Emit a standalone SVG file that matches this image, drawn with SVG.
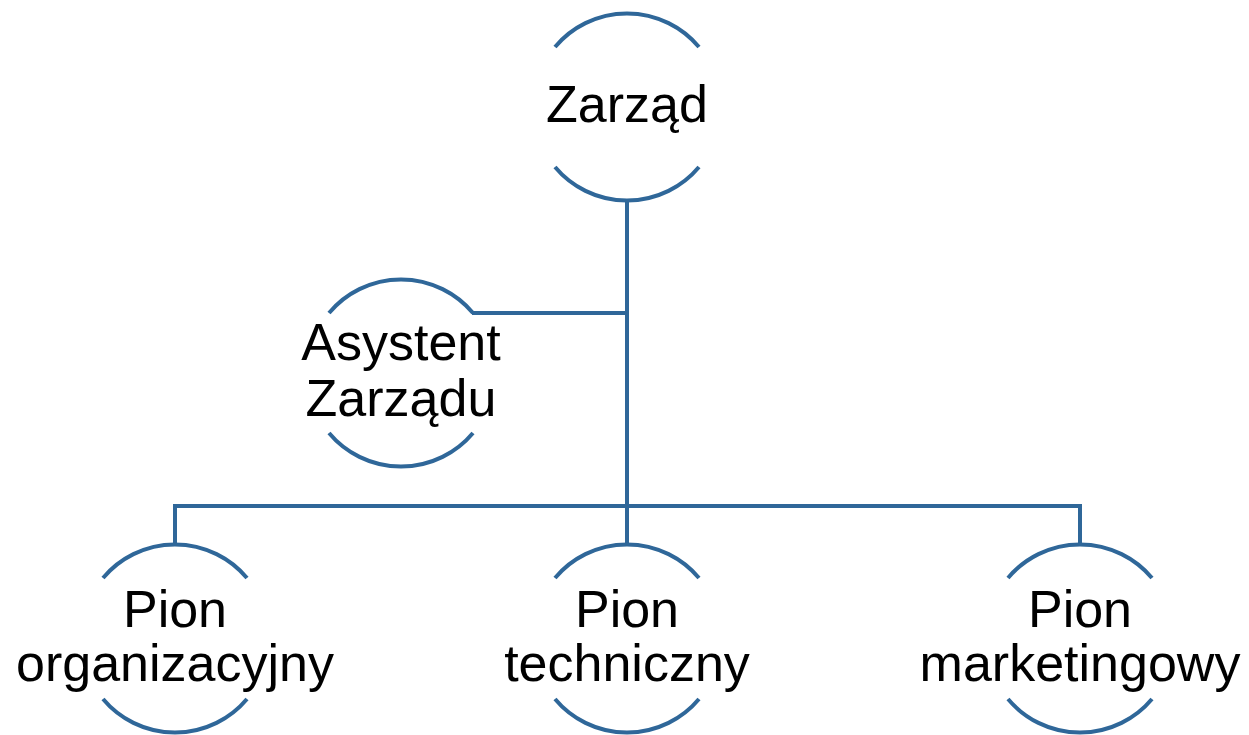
<svg xmlns="http://www.w3.org/2000/svg" width="1249" height="735" viewBox="0 0 1249 735">
<style>
.arc{fill:none;stroke:#2F6799;stroke-width:4}
.con{fill:none;stroke:#2F6799;stroke-width:4;stroke-linejoin:miter}
.t{font-family:"Liberation Sans",Arial,sans-serif;font-size:52px;fill:#000;text-anchor:middle}
</style>
<rect width="1249" height="735" fill="#fff"/>
<g id="connectors">
<path class="con" d="M627 200 V506"/>
<path class="con" d="M472 313 H627"/>
<path class="con" d="M175 545 V506 H1080 V545"/>
<path class="con" d="M627 506 V545"/>
</g>
<g id="zarzad">
<path class="arc" d="M555 47 A94 94 0 0 1 699 47"/>
<path class="arc" d="M555 167 A94 94 0 0 0 699 167"/>
<text class="t" x="627" y="122">Zarząd</text>
</g>
<g id="asystent">
<path class="arc" d="M329 313 A94 94 0 0 1 473 313"/>
<path class="arc" d="M329 433 A94 94 0 0 0 473 433"/>
<text class="t" x="401" y="360">Asystent</text>
<text class="t" x="401" y="416">Zarządu</text>
</g>
<g id="pion-org">
<path class="arc" d="M103 578 A94 94 0 0 1 247 578"/>
<path class="arc" d="M103 699 A94 94 0 0 0 247 699"/>
<text class="t" x="175" y="627">Pion</text>
<text class="t" x="175" y="681">organizacyjny</text>
</g>
<g id="pion-tech">
<path class="arc" d="M555 578 A94 94 0 0 1 699 578"/>
<path class="arc" d="M555 699 A94 94 0 0 0 699 699"/>
<text class="t" x="627" y="627">Pion</text>
<text class="t" x="627" y="681">techniczny</text>
</g>
<g id="pion-mark">
<path class="arc" d="M1008 578 A94 94 0 0 1 1152 578"/>
<path class="arc" d="M1008 699 A94 94 0 0 0 1152 699"/>
<text class="t" x="1080" y="627">Pion</text>
<text class="t" x="1080" y="681">marketingowy</text>
</g>
</svg>
